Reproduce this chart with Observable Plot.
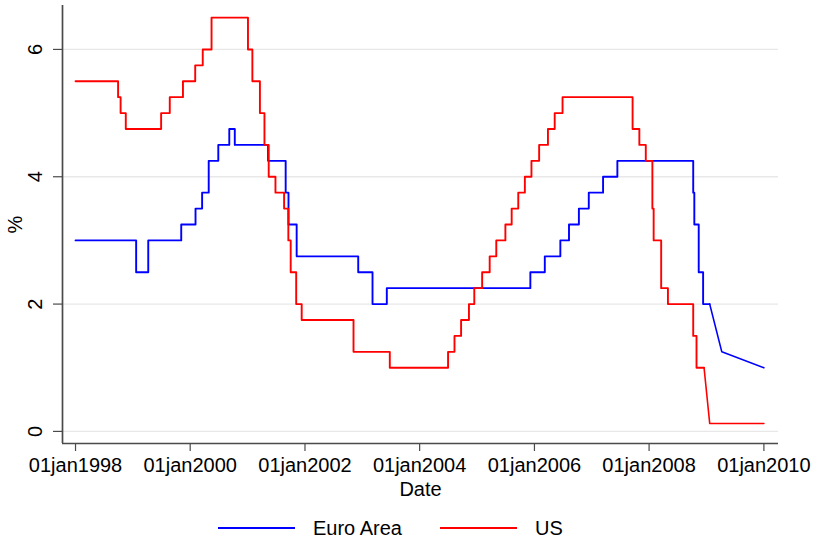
<!DOCTYPE html>
<html>
<head>
<meta charset="utf-8">
<script src="https://cdn.jsdelivr.net/npm/d3@7"></script>
<script src="https://cdn.jsdelivr.net/npm/@observablehq/plot@0.6"></script>
<style>
  body { margin: 0; background: #fff; font-family: "Liberation Sans", Arial, Helvetica, sans-serif; }
  #wrap { width: 814px; height: 542px; position: relative; }
  #legend { position: relative; width: 814px; height: 37px; }
  .sw { position: absolute; height: 2px; width: 77px; }
  .lt { position: absolute; font-size: 20px; line-height: 22px; color: #000; white-space: nowrap; }
</style>
</head>
<body>
<div id="wrap">
  <div id="chart"></div>
  <div id="legend"></div>
</div>
<script>
// ---- Data ----
// Euro Area: dates where the level changes, and the level from that date (step portion)
const euroDates = ["1998-01-01","1999-01-22","1999-04-09","1999-11-05","2000-02-04","2000-03-17","2000-04-28","2000-06-28","2000-09-06","2000-10-11","2001-05-11","2001-08-31","2001-09-18","2001-11-09","2002-12-06","2003-03-07","2003-06-06","2005-12-06","2006-03-08","2006-06-15","2006-08-09","2006-10-11","2006-12-13","2007-03-14","2007-06-13","2008-10-08","2008-10-15","2008-11-12","2008-12-10","2009-01-21"];
const euroRates = [3.0,2.5,3.0,3.25,3.5,3.75,4.25,4.5,4.75,4.5,4.25,3.75,3.25,2.75,2.5,2.0,2.25,2.5,2.75,3.0,3.25,3.5,3.75,4.0,4.25,3.75,3.25,2.5,2.0,2.0];
// Euro Area: sparse points at the end (joined by straight lines)
const euroTailDates = ["2009-01-21","2009-04-08","2010-01-01"];
const euroTailRates = [2.0,1.25,1.0];

// US: step portion
const usDates = ["1998-01-01","1998-09-29","1998-10-15","1998-11-17","1999-06-30","1999-08-24","1999-11-16","2000-02-02","2000-03-21","2000-05-16","2001-01-03","2001-01-31","2001-03-20","2001-04-18","2001-05-15","2001-06-27","2001-08-21","2001-09-17","2001-10-02","2001-11-06","2001-12-11","2002-11-06","2003-06-25","2004-06-30","2004-08-10","2004-09-21","2004-11-10","2004-12-14","2005-02-02","2005-03-22","2005-05-03","2005-06-30","2005-08-09","2005-09-20","2005-11-01","2005-12-13","2006-01-31","2006-03-28","2006-05-10","2006-06-29","2007-09-18","2007-10-31","2007-12-11","2008-01-22","2008-01-30","2008-03-18","2008-04-30","2008-10-08","2008-10-29","2008-12-16"];
const usRates = [5.5,5.25,5.0,4.75,5.0,5.25,5.5,5.75,6.0,6.5,6.0,5.5,5.0,4.5,4.0,3.75,3.5,3.0,2.5,2.0,1.75,1.25,1.0,1.25,1.5,1.75,2.0,2.25,2.5,2.75,3.0,3.25,3.5,3.75,4.0,4.25,4.5,4.75,5.0,5.25,4.75,4.5,4.25,3.5,3.0,2.25,2.0,1.5,1.0,1.0];
// US: sparse points at the end
const usTailDates = ["2008-12-16","2009-01-21","2010-01-01"];
const usTailRates = [1.0,0.125,0.125];

// Axis ticks and labels
const xTickYears = [1998,2000,2002,2004,2006,2008,2010];
const yTicks = [0,2,4,6];
const seriesNames = ["Euro Area","US"];
const seriesColors = ["#0000ff","#ff0000"];
const xTitle = "Date";
const yTitle = "%";

// ---- Build tables ----
const parse = d3.utcParse("%Y-%m-%d");
const toRows = (ds, vs) => ds.map((d, i) => ({date: parse(d), rate: vs[i]}));
const euroStep = toRows(euroDates, euroRates);
const euroTail = toRows(euroTailDates, euroTailRates);
const usStep = toRows(usDates, usRates);
const usTail = toRows(usTailDates, usTailRates);
const xTickDates = xTickYears.map(y => new Date(Date.UTC(y, 0, 1)));

const xDomain = [parse("1997-10-10"), parse("2010-04-04")];
const yDomain = [-0.19, 6.69];
const axisColor = "#4a4a4a";
const font = "Liberation Sans, Arial, Helvetica, sans-serif";

const chart = Plot.plot({
  width: 814,
  height: 505,
  marginLeft: 62,
  marginRight: 36,
  marginTop: 5,
  marginBottom: 62,
  style: {fontFamily: font, fontSize: "20px", color: "#000", background: "#fff", overflow: "visible"},
  x: {type: "utc", domain: xDomain},
  y: {domain: yDomain},
  marks: [
    Plot.ruleY(yTicks, {stroke: "#e8e8e8", strokeWidth: 1.3}),
    Plot.axisY(yTicks, {tickSize: 9, tickFormat: () => "", label: null, stroke: axisColor, strokeWidth: 1.2}),
    Plot.text(yTicks, {y: d => d, text: d => String(d), frameAnchor: "left", dx: -27, rotate: -90,
      textAnchor: "middle", lineAnchor: "middle", fontSize: 20, fill: "#000"}),
    Plot.text([yTitle], {text: d => d, frameAnchor: "left", dx: -47, rotate: -90,
      textAnchor: "middle", lineAnchor: "middle", fontSize: 20, fill: "#000"}),
    Plot.axisX(xTickDates, {tickSize: 8, tickPadding: 6, tickFormat: d => "01jan" + d.getUTCFullYear(),
      fontSize: 20, label: null, stroke: axisColor, strokeWidth: 1.2, fill: "#000"}),
    Plot.text([xTitle], {text: d => d, frameAnchor: "bottom", dy: 52, lineAnchor: "bottom", fontSize: 20, fill: "#000"}),
    Plot.ruleX([xDomain[0]], {stroke: axisColor, strokeWidth: 1.7}),
    Plot.ruleY([yDomain[0]], {stroke: axisColor, strokeWidth: 1.7}),
    Plot.line(euroStep, {x: "date", y: "rate", curve: "step-after", stroke: seriesColors[0], strokeWidth: 1.9}),
    Plot.line(euroTail, {x: "date", y: "rate", stroke: seriesColors[0], strokeWidth: 1.6}),
    Plot.line(usStep, {x: "date", y: "rate", curve: "step-after", stroke: seriesColors[1], strokeWidth: 1.9}),
    Plot.line(usTail, {x: "date", y: "rate", stroke: seriesColors[1], strokeWidth: 1.6})
  ]
});
document.getElementById("chart").appendChild(chart);

// ---- Legend (below the SVG) ----
const legend = document.getElementById("legend");
const legendPos = [{line: 218, text: 313}, {line: 440, text: 535}];
seriesNames.forEach((name, i) => {
  const sw = document.createElement("div");
  sw.className = "sw";
  sw.style.left = legendPos[i].line + "px";
  sw.style.top = "22px";
  sw.style.background = seriesColors[i];
  legend.appendChild(sw);
  const t = document.createElement("span");
  t.className = "lt";
  t.style.left = legendPos[i].text + "px";
  t.style.top = "12px";
  t.textContent = name;
  legend.appendChild(t);
});
</script>
</body>
</html>
